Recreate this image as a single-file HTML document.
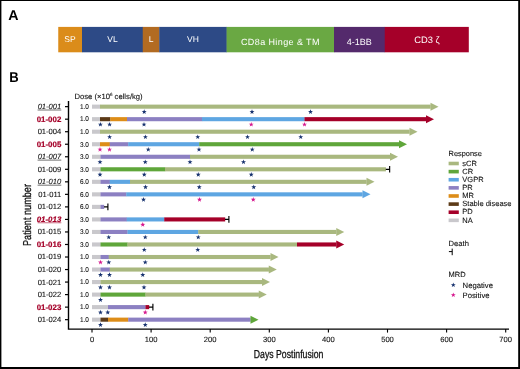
<!DOCTYPE html>
<html><head><meta charset="utf-8"><title>Figure</title>
<style>html,body{margin:0;padding:0;background:#fff;}body{width:520px;height:369px;position:relative;overflow:hidden;}</style></head>
<body>
<svg width="520" height="369" viewBox="0 0 520 369" font-family="'Liberation Sans', sans-serif" text-rendering="geometricPrecision" style="position:absolute;left:0;top:0">
<rect x="0" y="0" width="520" height="369" fill="#fff"/>
<rect x="58.25" y="26.9" width="24.05" height="25.4" fill="#db8c1a"/>
<rect x="82" y="26.9" width="61.05" height="25.4" fill="#2d4a86"/>
<rect x="142.75" y="26.9" width="16.80" height="25.4" fill="#b26b22"/>
<rect x="159.25" y="26.9" width="67.65" height="25.4" fill="#2d4a86"/>
<rect x="226.6" y="26.9" width="107.70" height="25.4" fill="#6aa843"/>
<rect x="334" y="26.9" width="51.05" height="25.4" fill="#542a6c"/>
<rect x="384.75" y="26.9" width="84.05" height="25.4" fill="#a50029"/>
<text x="70" y="42.36" font-size="8.5" fill="#fff" text-anchor="middle">SP</text>
<text x="112.5" y="42.36" font-size="8.5" fill="#fff" text-anchor="middle">VL</text>
<text x="151" y="42.36" font-size="8.5" fill="#fff" text-anchor="middle">L</text>
<text x="193" y="42.36" font-size="8.5" fill="#fff" text-anchor="middle">VH</text>
<text x="280.4" y="44.54" font-size="9" fill="#fff" text-anchor="middle" letter-spacing="0.4">CD8a Hinge &amp; TM</text>
<text x="359.25" y="44.74" font-size="9" fill="#fff" text-anchor="middle">4-1BB</text>
<text x="427" y="42.88" font-size="9.4" fill="#fff" text-anchor="middle">CD3 ζ</text>
<text x="8.2" y="20" font-size="14.2" font-weight="bold" fill="#000">A</text>
<text transform="translate(9.3 81.9) scale(0.92 1)" font-size="14.2" font-weight="bold" fill="#000">B</text>
<path d="M68.5 101.1 V329.1 H509" fill="none" stroke="#000" stroke-width="1.4" stroke-linejoin="miter"/>
<path d="M92.00 329 V332.6" stroke="#000" stroke-width="1.1"/>
<text x="92.00" y="342.4" font-size="7.6" fill="#111" text-anchor="middle" stroke="#111" stroke-width="0.1">0</text>
<path d="M151.10 329 V332.6" stroke="#000" stroke-width="1.1"/>
<text x="151.10" y="342.4" font-size="7.6" fill="#111" text-anchor="middle" stroke="#111" stroke-width="0.1">100</text>
<path d="M210.20 329 V332.6" stroke="#000" stroke-width="1.1"/>
<text x="210.20" y="342.4" font-size="7.6" fill="#111" text-anchor="middle" stroke="#111" stroke-width="0.1">200</text>
<path d="M269.30 329 V332.6" stroke="#000" stroke-width="1.1"/>
<text x="269.30" y="342.4" font-size="7.6" fill="#111" text-anchor="middle" stroke="#111" stroke-width="0.1">300</text>
<path d="M328.40 329 V332.6" stroke="#000" stroke-width="1.1"/>
<text x="328.40" y="342.4" font-size="7.6" fill="#111" text-anchor="middle" stroke="#111" stroke-width="0.1">400</text>
<path d="M387.50 329 V332.6" stroke="#000" stroke-width="1.1"/>
<text x="387.50" y="342.4" font-size="7.6" fill="#111" text-anchor="middle" stroke="#111" stroke-width="0.1">500</text>
<path d="M446.60 329 V332.6" stroke="#000" stroke-width="1.1"/>
<text x="446.60" y="342.4" font-size="7.6" fill="#111" text-anchor="middle" stroke="#111" stroke-width="0.1">600</text>
<path d="M505.70 329 V332.6" stroke="#000" stroke-width="1.1"/>
<text x="505.70" y="342.4" font-size="7.6" fill="#111" text-anchor="middle" stroke="#111" stroke-width="0.1">700</text>
<text x="74.5" y="98.85" font-size="7.65" fill="#111" stroke="#111" stroke-width="0.1">Dose (×10<tspan font-size="4.5" dy="-3">6</tspan><tspan dy="3"> cells/kg)</tspan></text>
<path d="M65 106.65 H68.5" stroke="#000" stroke-width="1.2"/>
<text x="61.3" y="109.10" font-size="7.6" fill="#111" text-anchor="end" font-style="italic" stroke="#111" stroke-width="0.1">01-001</text>
<path d="M37.6 110.00 H61.3" stroke="#111" stroke-width="0.6"/>
<text transform="translate(79.9 108.95) scale(0.92 1)" font-size="7" fill="#111" stroke="#111" stroke-width="0.1">1.0</text>
<rect x="92" y="104.60" width="8.20" height="4.1" fill="#c9c8cc"/>
<rect x="100" y="104.60" width="330.70" height="4.1" fill="#a9b87f"/>
<polygon points="430.5,102.65 438.5,106.65 430.5,110.65" fill="#a9b87f"/>
<polygon points="144.20,109.35 144.82,111.10 146.67,111.15 145.20,112.27 145.73,114.05 144.20,113.00 142.67,114.05 143.20,112.27 141.73,111.15 143.58,111.10" fill="#17326f"/>
<polygon points="252.00,109.35 252.62,111.10 254.47,111.15 253.00,112.27 253.53,114.05 252.00,113.00 250.47,114.05 251.00,112.27 249.53,111.15 251.38,111.10" fill="#17326f"/>
<polygon points="310.50,109.35 311.12,111.10 312.97,111.15 311.50,112.27 312.03,114.05 310.50,113.00 308.97,114.05 309.50,112.27 308.03,111.15 309.88,111.10" fill="#17326f"/>
<path d="M65 119.18 H68.5" stroke="#000" stroke-width="1.2"/>
<text x="61.3" y="121.63" font-size="7.9" fill="#a50029" text-anchor="end" font-weight="bold" stroke="#a50029" stroke-width="0.2">01-002</text>
<text transform="translate(79.9 121.48) scale(0.92 1)" font-size="7" fill="#111" stroke="#111" stroke-width="0.1">1.0</text>
<rect x="92" y="117.13" width="8.20" height="4.1" fill="#c9c8cc"/>
<rect x="100" y="117.13" width="10.45" height="4.1" fill="#5c3a17"/>
<rect x="110.25" y="117.13" width="16.95" height="4.1" fill="#dd8d18"/>
<rect x="127" y="117.13" width="75.20" height="4.1" fill="#8c80c2"/>
<rect x="202" y="117.13" width="102.70" height="4.1" fill="#5ea6e2"/>
<rect x="304.5" y="117.13" width="121.70" height="4.1" fill="#a50029"/>
<polygon points="426,115.18 434,119.18 426,123.18" fill="#a50029"/>
<polygon points="100.40,121.88 101.02,123.63 102.87,123.68 101.40,124.80 101.93,126.58 100.40,125.53 98.87,126.58 99.40,124.80 97.93,123.68 99.78,123.63" fill="#17326f"/>
<polygon points="109.60,121.88 110.22,123.63 112.07,123.68 110.60,124.80 111.13,126.58 109.60,125.53 108.07,126.58 108.60,124.80 107.13,123.68 108.98,123.63" fill="#17326f"/>
<polygon points="144.00,121.88 144.62,123.63 146.47,123.68 145.00,124.80 145.53,126.58 144.00,125.53 142.47,126.58 143.00,124.80 141.53,123.68 143.38,123.63" fill="#17326f"/>
<polygon points="251.25,121.88 251.87,123.63 253.72,123.68 252.25,124.80 252.78,126.58 251.25,125.53 249.72,126.58 250.25,124.80 248.78,123.68 250.63,123.63" fill="#d6188e"/>
<polygon points="304.50,121.88 305.12,123.63 306.97,123.68 305.50,124.80 306.03,126.58 304.50,125.53 302.97,126.58 303.50,124.80 302.03,123.68 303.88,123.63" fill="#d6188e"/>
<path d="M65 131.71 H68.5" stroke="#000" stroke-width="1.2"/>
<text x="61.3" y="134.16" font-size="7.6" fill="#111" text-anchor="end" stroke="#111" stroke-width="0.1">01-004</text>
<text transform="translate(79.9 134.01) scale(0.92 1)" font-size="7" fill="#111" stroke="#111" stroke-width="0.1">1.0</text>
<rect x="92" y="129.66" width="8.20" height="4.1" fill="#c9c8cc"/>
<rect x="100" y="129.66" width="309.70" height="4.1" fill="#a9b87f"/>
<polygon points="409.5,127.71 417.5,131.71 409.5,135.71" fill="#a9b87f"/>
<polygon points="109.60,134.41 110.22,136.16 112.07,136.21 110.60,137.33 111.13,139.11 109.60,138.06 108.07,139.11 108.60,137.33 107.13,136.21 108.98,136.16" fill="#17326f"/>
<polygon points="145.40,134.41 146.02,136.16 147.87,136.21 146.40,137.33 146.93,139.11 145.40,138.06 143.87,139.11 144.40,137.33 142.93,136.21 144.78,136.16" fill="#17326f"/>
<polygon points="197.75,134.41 198.37,136.16 200.22,136.21 198.75,137.33 199.28,139.11 197.75,138.06 196.22,139.11 196.75,137.33 195.28,136.21 197.13,136.16" fill="#17326f"/>
<polygon points="247.50,134.41 248.12,136.16 249.97,136.21 248.50,137.33 249.03,139.11 247.50,138.06 245.97,139.11 246.50,137.33 245.03,136.21 246.88,136.16" fill="#17326f"/>
<polygon points="300.75,134.41 301.37,136.16 303.22,136.21 301.75,137.33 302.28,139.11 300.75,138.06 299.22,139.11 299.75,137.33 298.28,136.21 300.13,136.16" fill="#17326f"/>
<path d="M65 144.24 H68.5" stroke="#000" stroke-width="1.2"/>
<text x="61.3" y="146.69" font-size="7.9" fill="#a50029" text-anchor="end" font-weight="bold" stroke="#a50029" stroke-width="0.2">01-005</text>
<text transform="translate(79.9 146.54) scale(0.92 1)" font-size="7" fill="#111" stroke="#111" stroke-width="0.1">3.0</text>
<rect x="92" y="142.19" width="8.20" height="4.1" fill="#c9c8cc"/>
<rect x="100" y="142.19" width="9.95" height="4.1" fill="#dd8d18"/>
<rect x="109.75" y="142.19" width="18.65" height="4.1" fill="#8c80c2"/>
<rect x="128.2" y="142.19" width="71.25" height="4.1" fill="#5ea6e2"/>
<rect x="199.25" y="142.19" width="199.95" height="4.1" fill="#5fa63a"/>
<polygon points="399,140.24 407,144.24 399,148.24" fill="#5fa63a"/>
<polygon points="100.00,146.94 100.62,148.69 102.47,148.74 101.00,149.86 101.53,151.64 100.00,150.59 98.47,151.64 99.00,149.86 97.53,148.74 99.38,148.69" fill="#d6188e"/>
<polygon points="109.50,146.94 110.12,148.69 111.97,148.74 110.50,149.86 111.03,151.64 109.50,150.59 107.97,151.64 108.50,149.86 107.03,148.74 108.88,148.69" fill="#d6188e"/>
<polygon points="148.25,146.94 148.87,148.69 150.72,148.74 149.25,149.86 149.78,151.64 148.25,150.59 146.72,151.64 147.25,149.86 145.78,148.74 147.63,148.69" fill="#17326f"/>
<polygon points="199.00,146.94 199.62,148.69 201.47,148.74 200.00,149.86 200.53,151.64 199.00,150.59 197.47,151.64 198.00,149.86 196.53,148.74 198.38,148.69" fill="#17326f"/>
<polygon points="252.25,146.94 252.87,148.69 254.72,148.74 253.25,149.86 253.78,151.64 252.25,150.59 250.72,151.64 251.25,149.86 249.78,148.74 251.63,148.69" fill="#17326f"/>
<path d="M65 156.77 H68.5" stroke="#000" stroke-width="1.2"/>
<text x="61.3" y="159.22" font-size="7.6" fill="#111" text-anchor="end" font-style="italic" stroke="#111" stroke-width="0.1">01-007</text>
<path d="M37.6 160.12 H61.3" stroke="#111" stroke-width="0.6"/>
<text transform="translate(79.9 159.07) scale(0.92 1)" font-size="7" fill="#111" stroke="#111" stroke-width="0.1">3.0</text>
<rect x="92" y="154.72" width="8.70" height="4.1" fill="#c9c8cc"/>
<rect x="100.5" y="154.72" width="89.70" height="4.1" fill="#8c80c2"/>
<rect x="190" y="154.72" width="200.20" height="4.1" fill="#a9b87f"/>
<polygon points="390,152.77 398,156.77 390,160.77" fill="#a9b87f"/>
<polygon points="100.00,159.47 100.62,161.22 102.47,161.27 101.00,162.39 101.53,164.17 100.00,163.12 98.47,164.17 99.00,162.39 97.53,161.27 99.38,161.22" fill="#17326f"/>
<polygon points="145.25,159.47 145.87,161.22 147.72,161.27 146.25,162.39 146.78,164.17 145.25,163.12 143.72,164.17 144.25,162.39 142.78,161.27 144.63,161.22" fill="#17326f"/>
<polygon points="190.00,159.47 190.62,161.22 192.47,161.27 191.00,162.39 191.53,164.17 190.00,163.12 188.47,164.17 189.00,162.39 187.53,161.27 189.38,161.22" fill="#17326f"/>
<polygon points="243.50,159.47 244.12,161.22 245.97,161.27 244.50,162.39 245.03,164.17 243.50,163.12 241.97,164.17 242.50,162.39 241.03,161.27 242.88,161.22" fill="#17326f"/>
<path d="M65 169.30 H68.5" stroke="#000" stroke-width="1.2"/>
<text x="61.3" y="171.75" font-size="7.6" fill="#111" text-anchor="end" stroke="#111" stroke-width="0.1">01-009</text>
<text transform="translate(79.9 171.60) scale(0.92 1)" font-size="7" fill="#111" stroke="#111" stroke-width="0.1">3.0</text>
<rect x="92" y="167.25" width="8.70" height="4.1" fill="#c9c8cc"/>
<rect x="100.5" y="167.25" width="64.70" height="4.1" fill="#5fa63a"/>
<rect x="165" y="167.25" width="220.95" height="4.1" fill="#a9b87f"/>
<path d="M385.75 169.30 H389.65 M389.65 166.00 V172.60" stroke="#000" stroke-width="1.15" fill="none"/>
<polygon points="100.00,172.00 100.62,173.75 102.47,173.80 101.00,174.92 101.53,176.70 100.00,175.65 98.47,176.70 99.00,174.92 97.53,173.80 99.38,173.75" fill="#17326f"/>
<polygon points="144.25,172.00 144.87,173.75 146.72,173.80 145.25,174.92 145.78,176.70 144.25,175.65 142.72,176.70 143.25,174.92 141.78,173.80 143.63,173.75" fill="#17326f"/>
<polygon points="198.25,172.00 198.87,173.75 200.72,173.80 199.25,174.92 199.78,176.70 198.25,175.65 196.72,176.70 197.25,174.92 195.78,173.80 197.63,173.75" fill="#17326f"/>
<polygon points="251.25,172.00 251.87,173.75 253.72,173.80 252.25,174.92 252.78,176.70 251.25,175.65 249.72,176.70 250.25,174.92 248.78,173.80 250.63,173.75" fill="#17326f"/>
<path d="M65 181.83 H68.5" stroke="#000" stroke-width="1.2"/>
<text x="61.3" y="184.28" font-size="7.6" fill="#111" text-anchor="end" font-style="italic" stroke="#111" stroke-width="0.1">01-010</text>
<path d="M37.6 185.18 H61.3" stroke="#111" stroke-width="0.6"/>
<text transform="translate(79.9 184.13) scale(0.92 1)" font-size="7" fill="#111" stroke="#111" stroke-width="0.1">6.0</text>
<rect x="92" y="179.78" width="8.70" height="4.1" fill="#c9c8cc"/>
<rect x="100.5" y="179.78" width="9.45" height="4.1" fill="#8c80c2"/>
<rect x="109.75" y="179.78" width="20.45" height="4.1" fill="#5ea6e2"/>
<rect x="130" y="179.78" width="236.70" height="4.1" fill="#a9b87f"/>
<polygon points="366.5,177.83 374.5,181.83 366.5,185.83" fill="#a9b87f"/>
<polygon points="109.50,184.53 110.12,186.28 111.97,186.33 110.50,187.45 111.03,189.23 109.50,188.18 107.97,189.23 108.50,187.45 107.03,186.33 108.88,186.28" fill="#17326f"/>
<polygon points="145.50,184.53 146.12,186.28 147.97,186.33 146.50,187.45 147.03,189.23 145.50,188.18 143.97,189.23 144.50,187.45 143.03,186.33 144.88,186.28" fill="#17326f"/>
<polygon points="199.25,184.53 199.87,186.28 201.72,186.33 200.25,187.45 200.78,189.23 199.25,188.18 197.72,189.23 198.25,187.45 196.78,186.33 198.63,186.28" fill="#17326f"/>
<polygon points="253.75,184.53 254.37,186.28 256.22,186.33 254.75,187.45 255.28,189.23 253.75,188.18 252.22,189.23 252.75,187.45 251.28,186.33 253.13,186.28" fill="#17326f"/>
<path d="M65 194.36 H68.5" stroke="#000" stroke-width="1.2"/>
<text x="61.3" y="196.81" font-size="7.6" fill="#111" text-anchor="end" stroke="#111" stroke-width="0.1">01-011</text>
<text transform="translate(79.9 196.66) scale(0.92 1)" font-size="7" fill="#111" stroke="#111" stroke-width="0.1">6.0</text>
<rect x="92" y="192.31" width="8.70" height="4.1" fill="#c9c8cc"/>
<rect x="100.5" y="192.31" width="25.95" height="4.1" fill="#8c80c2"/>
<rect x="126.25" y="192.31" width="236.45" height="4.1" fill="#5ea6e2"/>
<polygon points="362.5,190.36 370.5,194.36 362.5,198.36" fill="#5ea6e2"/>
<polygon points="143.50,197.06 144.12,198.81 145.97,198.86 144.50,199.98 145.03,201.76 143.50,200.71 141.97,201.76 142.50,199.98 141.03,198.86 142.88,198.81" fill="#17326f"/>
<polygon points="199.50,197.06 200.12,198.81 201.97,198.86 200.50,199.98 201.03,201.76 199.50,200.71 197.97,201.76 198.50,199.98 197.03,198.86 198.88,198.81" fill="#d6188e"/>
<polygon points="253.25,197.06 253.87,198.81 255.72,198.86 254.25,199.98 254.78,201.76 253.25,200.71 251.72,201.76 252.25,199.98 250.78,198.86 252.63,198.81" fill="#d6188e"/>
<path d="M65 206.89 H68.5" stroke="#000" stroke-width="1.2"/>
<text x="61.3" y="209.34" font-size="7.6" fill="#111" text-anchor="end" stroke="#111" stroke-width="0.1">01-012</text>
<text transform="translate(79.9 209.19) scale(0.92 1)" font-size="7" fill="#111" stroke="#111" stroke-width="0.1">6.0</text>
<rect x="92" y="204.84" width="8.70" height="4.1" fill="#c9c8cc"/>
<rect x="100.5" y="204.84" width="3.70" height="4.1" fill="#8c80c2"/>
<path d="M104 206.89 H107.9 M107.9 203.59 V210.19" stroke="#000" stroke-width="1.15" fill="none"/>
<path d="M65 219.42 H68.5" stroke="#000" stroke-width="1.2"/>
<text x="61.3" y="221.87" font-size="7.9" fill="#a50029" text-anchor="end" font-weight="bold" font-style="italic" stroke="#a50029" stroke-width="0.2">01-013</text>
<path d="M37.6 222.77 H61.3" stroke="#a50029" stroke-width="0.6"/>
<text transform="translate(79.9 221.72) scale(0.92 1)" font-size="7" fill="#111" stroke="#111" stroke-width="0.1">3.0</text>
<rect x="92" y="217.37" width="8.70" height="4.1" fill="#c9c8cc"/>
<rect x="100.5" y="217.37" width="26.45" height="4.1" fill="#8c80c2"/>
<rect x="126.75" y="217.37" width="37.70" height="4.1" fill="#5ea6e2"/>
<rect x="164.25" y="217.37" width="60.95" height="4.1" fill="#a50029"/>
<path d="M225 219.42 H228.9 M228.9 216.12 V222.72" stroke="#000" stroke-width="1.15" fill="none"/>
<polygon points="142.75,222.12 143.37,223.87 145.22,223.92 143.75,225.04 144.28,226.82 142.75,225.77 141.22,226.82 141.75,225.04 140.28,223.92 142.13,223.87" fill="#d6188e"/>
<path d="M65 231.95 H68.5" stroke="#000" stroke-width="1.2"/>
<text x="61.3" y="234.40" font-size="7.6" fill="#111" text-anchor="end" stroke="#111" stroke-width="0.1">01-015</text>
<text transform="translate(79.9 234.25) scale(0.92 1)" font-size="7" fill="#111" stroke="#111" stroke-width="0.1">3.0</text>
<rect x="92" y="229.90" width="8.70" height="4.1" fill="#c9c8cc"/>
<rect x="100.5" y="229.90" width="27.20" height="4.1" fill="#8c80c2"/>
<rect x="127.5" y="229.90" width="70.95" height="4.1" fill="#5ea6e2"/>
<rect x="198.25" y="229.90" width="138.20" height="4.1" fill="#a9b87f"/>
<polygon points="336.25,227.95 344.25,231.95 336.25,235.95" fill="#a9b87f"/>
<polygon points="108.75,234.65 109.37,236.40 111.22,236.45 109.75,237.57 110.28,239.35 108.75,238.30 107.22,239.35 107.75,237.57 106.28,236.45 108.13,236.40" fill="#17326f"/>
<polygon points="145.25,234.65 145.87,236.40 147.72,236.45 146.25,237.57 146.78,239.35 145.25,238.30 143.72,239.35 144.25,237.57 142.78,236.45 144.63,236.40" fill="#17326f"/>
<polygon points="198.25,234.65 198.87,236.40 200.72,236.45 199.25,237.57 199.78,239.35 198.25,238.30 196.72,239.35 197.25,237.57 195.78,236.45 197.63,236.40" fill="#17326f"/>
<path d="M65 244.48 H68.5" stroke="#000" stroke-width="1.2"/>
<text x="61.3" y="246.93" font-size="7.9" fill="#a50029" text-anchor="end" font-weight="bold" stroke="#a50029" stroke-width="0.2">01-016</text>
<text transform="translate(79.9 246.78) scale(0.92 1)" font-size="7" fill="#111" stroke="#111" stroke-width="0.1">3.0</text>
<rect x="92" y="242.43" width="8.70" height="4.1" fill="#c9c8cc"/>
<rect x="100.5" y="242.43" width="27.20" height="4.1" fill="#5fa63a"/>
<rect x="127.5" y="242.43" width="169.70" height="4.1" fill="#a9b87f"/>
<rect x="297" y="242.43" width="39.45" height="4.1" fill="#a50029"/>
<polygon points="336.25,240.48 344.25,244.48 336.25,248.48" fill="#a50029"/>
<polygon points="144.25,247.18 144.87,248.93 146.72,248.98 145.25,250.10 145.78,251.88 144.25,250.83 142.72,251.88 143.25,250.10 141.78,248.98 143.63,248.93" fill="#17326f"/>
<polygon points="197.75,247.18 198.37,248.93 200.22,248.98 198.75,250.10 199.28,251.88 197.75,250.83 196.22,251.88 196.75,250.10 195.28,248.98 197.13,248.93" fill="#17326f"/>
<path d="M65 257.01 H68.5" stroke="#000" stroke-width="1.2"/>
<text x="61.3" y="259.46" font-size="7.6" fill="#111" text-anchor="end" stroke="#111" stroke-width="0.1">01-019</text>
<text transform="translate(79.9 259.31) scale(0.92 1)" font-size="7" fill="#111" stroke="#111" stroke-width="0.1">1.0</text>
<rect x="92" y="254.96" width="8.70" height="4.1" fill="#c9c8cc"/>
<rect x="100.5" y="254.96" width="8.45" height="4.1" fill="#8c80c2"/>
<rect x="108.75" y="254.96" width="161.95" height="4.1" fill="#a9b87f"/>
<polygon points="270.5,253.01 278.5,257.01 270.5,261.01" fill="#a9b87f"/>
<polygon points="100.50,259.71 101.12,261.46 102.97,261.51 101.50,262.63 102.03,264.41 100.50,263.36 98.97,264.41 99.50,262.63 98.03,261.51 99.88,261.46" fill="#d6188e"/>
<polygon points="108.75,259.71 109.37,261.46 111.22,261.51 109.75,262.63 110.28,264.41 108.75,263.36 107.22,264.41 107.75,262.63 106.28,261.51 108.13,261.46" fill="#17326f"/>
<polygon points="145.25,259.71 145.87,261.46 147.72,261.51 146.25,262.63 146.78,264.41 145.25,263.36 143.72,264.41 144.25,262.63 142.78,261.51 144.63,261.46" fill="#17326f"/>
<path d="M65 269.54 H68.5" stroke="#000" stroke-width="1.2"/>
<text x="61.3" y="271.99" font-size="7.6" fill="#111" text-anchor="end" stroke="#111" stroke-width="0.1">01-020</text>
<text transform="translate(79.9 271.84) scale(0.92 1)" font-size="7" fill="#111" stroke="#111" stroke-width="0.1">1.0</text>
<rect x="92" y="267.49" width="8.70" height="4.1" fill="#c9c8cc"/>
<rect x="100.5" y="267.49" width="9.45" height="4.1" fill="#8c80c2"/>
<rect x="109.75" y="267.49" width="159.20" height="4.1" fill="#a9b87f"/>
<polygon points="268.75,265.54 276.75,269.54 268.75,273.54" fill="#a9b87f"/>
<polygon points="100.50,272.24 101.12,273.99 102.97,274.04 101.50,275.16 102.03,276.94 100.50,275.89 98.97,276.94 99.50,275.16 98.03,274.04 99.88,273.99" fill="#17326f"/>
<polygon points="109.50,272.24 110.12,273.99 111.97,274.04 110.50,275.16 111.03,276.94 109.50,275.89 107.97,276.94 108.50,275.16 107.03,274.04 108.88,273.99" fill="#17326f"/>
<polygon points="142.75,272.24 143.37,273.99 145.22,274.04 143.75,275.16 144.28,276.94 142.75,275.89 141.22,276.94 141.75,275.16 140.28,274.04 142.13,273.99" fill="#17326f"/>
<path d="M65 282.07 H68.5" stroke="#000" stroke-width="1.2"/>
<text x="61.3" y="284.52" font-size="7.6" fill="#111" text-anchor="end" stroke="#111" stroke-width="0.1">01-021</text>
<text transform="translate(79.9 284.37) scale(0.92 1)" font-size="7" fill="#111" stroke="#111" stroke-width="0.1">1.0</text>
<rect x="92" y="280.02" width="8.70" height="4.1" fill="#c9c8cc"/>
<rect x="100.5" y="280.02" width="161.70" height="4.1" fill="#a9b87f"/>
<polygon points="262,278.07 270,282.07 262,286.07" fill="#a9b87f"/>
<polygon points="100.50,284.77 101.12,286.52 102.97,286.57 101.50,287.69 102.03,289.47 100.50,288.42 98.97,289.47 99.50,287.69 98.03,286.57 99.88,286.52" fill="#17326f"/>
<polygon points="109.50,284.77 110.12,286.52 111.97,286.57 110.50,287.69 111.03,289.47 109.50,288.42 107.97,289.47 108.50,287.69 107.03,286.57 108.88,286.52" fill="#17326f"/>
<polygon points="144.00,284.77 144.62,286.52 146.47,286.57 145.00,287.69 145.53,289.47 144.00,288.42 142.47,289.47 143.00,287.69 141.53,286.57 143.38,286.52" fill="#17326f"/>
<path d="M65 294.60 H68.5" stroke="#000" stroke-width="1.2"/>
<text x="61.3" y="297.05" font-size="7.6" fill="#111" text-anchor="end" stroke="#111" stroke-width="0.1">01-022</text>
<text transform="translate(79.9 296.90) scale(0.92 1)" font-size="7" fill="#111" stroke="#111" stroke-width="0.1">1.0</text>
<rect x="92" y="292.55" width="8.70" height="4.1" fill="#c9c8cc"/>
<rect x="100.5" y="292.55" width="45.20" height="4.1" fill="#5fa63a"/>
<rect x="145.5" y="292.55" width="113.45" height="4.1" fill="#a9b87f"/>
<polygon points="258.75,290.60 266.75,294.60 258.75,298.60" fill="#a9b87f"/>
<polygon points="100.50,297.30 101.12,299.05 102.97,299.10 101.50,300.22 102.03,302.00 100.50,300.95 98.97,302.00 99.50,300.22 98.03,299.10 99.88,299.05" fill="#17326f"/>
<path d="M65 307.13 H68.5" stroke="#000" stroke-width="1.2"/>
<text x="61.3" y="309.58" font-size="7.9" fill="#a50029" text-anchor="end" font-weight="bold" stroke="#a50029" stroke-width="0.2">01-023</text>
<text transform="translate(79.9 309.43) scale(0.92 1)" font-size="7" fill="#111" stroke="#111" stroke-width="0.1">1.0</text>
<rect x="92" y="305.08" width="16.20" height="4.1" fill="#c9c8cc"/>
<rect x="108" y="305.08" width="37.70" height="4.1" fill="#8c80c2"/>
<rect x="145.5" y="305.08" width="3.70" height="4.1" fill="#a50029"/>
<path d="M149 307.13 H152.9 M152.9 303.83 V310.43" stroke="#000" stroke-width="1.15" fill="none"/>
<polygon points="100.50,309.83 101.12,311.58 102.97,311.63 101.50,312.75 102.03,314.53 100.50,313.48 98.97,314.53 99.50,312.75 98.03,311.63 99.88,311.58" fill="#17326f"/>
<polygon points="107.75,309.83 108.37,311.58 110.22,311.63 108.75,312.75 109.28,314.53 107.75,313.48 106.22,314.53 106.75,312.75 105.28,311.63 107.13,311.58" fill="#17326f"/>
<polygon points="145.25,309.83 145.87,311.58 147.72,311.63 146.25,312.75 146.78,314.53 145.25,313.48 143.72,314.53 144.25,312.75 142.78,311.63 144.63,311.58" fill="#d6188e"/>
<path d="M65 319.66 H68.5" stroke="#000" stroke-width="1.2"/>
<text x="61.3" y="322.11" font-size="7.6" fill="#111" text-anchor="end" stroke="#111" stroke-width="0.1">01-024</text>
<text transform="translate(79.9 321.96) scale(0.92 1)" font-size="7" fill="#111" stroke="#111" stroke-width="0.1">1.0</text>
<rect x="92" y="317.61" width="8.70" height="4.1" fill="#c9c8cc"/>
<rect x="100.5" y="317.61" width="7.70" height="4.1" fill="#5c3a17"/>
<rect x="108" y="317.61" width="20.45" height="4.1" fill="#dd8d18"/>
<rect x="128.25" y="317.61" width="122.45" height="4.1" fill="#8c80c2"/>
<polygon points="250.5,315.66 258.5,319.66 250.5,323.66" fill="#5fa63a"/>
<polygon points="100.50,322.36 101.12,324.11 102.97,324.16 101.50,325.28 102.03,327.06 100.50,326.01 98.97,327.06 99.50,325.28 98.03,324.16 99.88,324.11" fill="#17326f"/>
<polygon points="145.25,322.36 145.87,324.11 147.72,324.16 146.25,325.28 146.78,327.06 145.25,326.01 143.72,327.06 144.25,325.28 142.78,324.16 144.63,324.11" fill="#17326f"/>
<text x="448.6" y="155.6" font-size="7.4" fill="#111" stroke="#111" stroke-width="0.1">Response</text>
<rect x="448.6" y="161.70" width="10.2" height="3.6" fill="#a9b87f"/>
<text x="462.3" y="165.70" font-size="7.5" fill="#111" stroke="#111" stroke-width="0.1">sCR</text>
<rect x="448.6" y="169.82" width="10.2" height="3.6" fill="#5fa63a"/>
<text x="462.3" y="173.82" font-size="7.5" fill="#111" stroke="#111" stroke-width="0.1">CR</text>
<rect x="448.6" y="177.94" width="10.2" height="3.6" fill="#5ea6e2"/>
<text x="462.3" y="181.94" font-size="7.5" fill="#111" stroke="#111" stroke-width="0.1">VGPR</text>
<rect x="448.6" y="186.06" width="10.2" height="3.6" fill="#8c80c2"/>
<text x="462.3" y="190.06" font-size="7.5" fill="#111" stroke="#111" stroke-width="0.1">PR</text>
<rect x="448.6" y="194.18" width="10.2" height="3.6" fill="#dd8d18"/>
<text x="462.3" y="198.18" font-size="7.5" fill="#111" stroke="#111" stroke-width="0.1">MR</text>
<rect x="448.6" y="202.30" width="10.2" height="3.6" fill="#5c3a17"/>
<text x="462.3" y="206.30" font-size="7.5" fill="#111" stroke="#111" stroke-width="0.1">Stable disease</text>
<rect x="448.6" y="210.42" width="10.2" height="3.6" fill="#a50029"/>
<text x="462.3" y="214.42" font-size="7.5" fill="#111" stroke="#111" stroke-width="0.1">PD</text>
<rect x="448.6" y="218.54" width="10.2" height="3.6" fill="#c9c8cc"/>
<text x="462.3" y="222.54" font-size="7.5" fill="#111" stroke="#111" stroke-width="0.1">NA</text>
<text x="448.6" y="246.3" font-size="7.6" fill="#111" stroke="#111" stroke-width="0.1">Death</text>
<path d="M448.9 251.6 H452.2 M452.2 248.6 V255.2" stroke="#000" stroke-width="1" fill="none"/>
<text x="448.6" y="276.6" font-size="7.5" fill="#111" stroke="#111" stroke-width="0.1">MRD</text>
<polygon points="453.30,282.40 453.92,284.15 455.77,284.20 454.30,285.32 454.83,287.10 453.30,286.05 451.77,287.10 452.30,285.32 450.83,284.20 452.68,284.15" fill="#17326f"/>
<text x="462.6" y="287.7" font-size="7.7" fill="#111" stroke="#111" stroke-width="0.1">Negative</text>
<polygon points="453.30,292.40 453.92,294.15 455.77,294.20 454.30,295.32 454.83,297.10 453.30,296.05 451.77,297.10 452.30,295.32 450.83,294.20 452.68,294.15" fill="#d6188e"/>
<text x="462.6" y="297.7" font-size="7.7" fill="#111" stroke="#111" stroke-width="0.1">Positive</text>
<text transform="translate(253.75 358.2) scale(0.757 1)" font-size="11.5" fill="#111" stroke="#111" stroke-width="0.3">Days Postinfusion</text>
<text transform="translate(31.2 246) rotate(-90) scale(0.795 1)" font-size="11.5" fill="#111" stroke="#111" stroke-width="0.3">Patient number</text>
<path d="M0.7 0 V369" stroke="#000" stroke-width="1.4"/><path d="M0 0.5 H520" stroke="#000" stroke-width="1.2"/>
<rect x="518.2" y="0" width="1.8" height="369" fill="#000"/><rect x="0" y="367" width="520" height="2" fill="#000"/>
</svg>
</body></html>
